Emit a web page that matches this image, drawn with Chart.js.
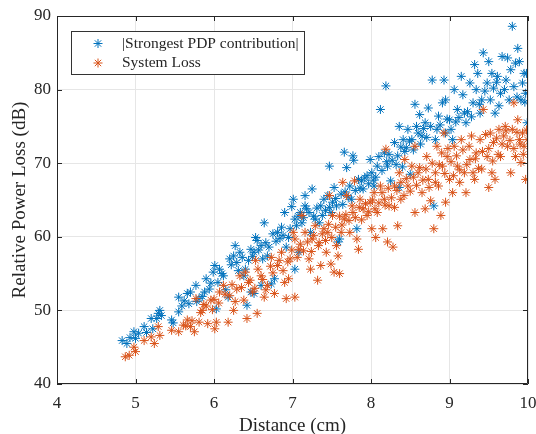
<!DOCTYPE html>
<html>
<head>
<meta charset="utf-8">
<script src="https://cdn.jsdelivr.net/npm/chart.js@4.4.1/dist/chart.umd.min.js"></script>
<style>
  body { margin: 0; background: #fff; }
</style>
</head>
<body>
<canvas id="grafico" width="536" height="434"></canvas>
<script>
// Valores: distancia (cm) e perda (dB)
const pdpPontos = [
  [4.83,45.9],[4.89,45.5],[4.93,46.3],[4.98,47.1],[5.0,46.2],[5.04,46.9],[5.11,47.8],[5.14,47.0],[5.2,48.9],[5.22,47.5],
  [5.27,48.9],[5.29,49.6],[5.31,50.0],[5.33,49.3],[5.46,48.7],[5.48,48.3],[5.55,49.8],[5.55,51.8],[5.59,50.6],[5.62,51.3],
  [5.66,52.3],[5.7,52.5],[5.68,50.9],[5.77,53.4],[5.78,51.2],[5.81,51.6],[5.85,51.9],[5.88,52.5],[5.9,54.3],[5.94,52.9],
  [5.96,53.7],[5.99,55.2],[6.01,56.1],[6.03,50.2],[6.05,53.8],[6.07,55.6],[6.1,55.0],[6.12,54.7],[6.15,52.8],[6.18,51.8],
  [6.2,57.0],[6.22,56.2],[6.25,57.4],[6.27,58.8],[6.29,56.5],[6.31,55.4],[6.33,57.9],[6.36,57.2],[6.38,54.7],[6.4,55.6],
  [6.42,50.7],[6.44,56.8],[6.47,58.3],[6.47,52.5],[6.49,57.3],[6.51,57.9],[6.51,52.3],[6.53,59.9],[6.55,59.5],[6.57,58.2],
  [6.6,58.8],[6.6,53.4],[6.62,57.0],[6.64,61.9],[6.66,59.2],[6.68,57.4],[6.7,58.6],[6.73,53.6],[6.75,60.4],[6.77,54.3],
  [6.79,59.4],[6.81,60.6],[6.84,59.8],[6.86,61.3],[6.88,60.2],[6.9,63.3],[6.92,58.6],[6.95,59.9],[6.97,61.1],[6.99,64.1],
  [7.01,65.1],[7.03,62.4],[7.03,55.6],[7.05,61.5],[7.07,62.8],[7.08,57.9],[7.1,63.3],[7.12,61.9],[7.14,62.6],[7.16,64.2],
  [7.16,65.6],[7.18,63.8],[7.21,63.3],[7.23,60.6],[7.25,66.5],[7.27,62.8],[7.29,62.4],[7.31,63.9],[7.34,61.9],[7.36,64.2],
  [7.38,62.9],[7.4,65.1],[7.42,63.6],[7.45,65.6],[7.47,69.6],[7.47,64.0],[7.49,63.3],[7.51,64.7],[7.53,66.7],[7.55,65.2],
  [7.56,64.2],[7.58,59.3],[7.6,59.7],[7.62,65.8],[7.64,64.4],[7.66,71.5],[7.67,66.1],[7.69,69.4],[7.71,65.4],[7.73,66.9],
  [7.75,65.1],[7.77,71.0],[7.78,70.4],[7.8,66.3],[7.82,61.1],[7.84,67.8],[7.86,66.6],[7.88,67.6],[7.9,66.5],[7.92,68.0],
  [7.95,68.3],[7.97,67.2],[7.99,70.5],[8.01,68.7],[8.03,67.7],[8.04,66.9],[8.06,68.1],[8.08,69.6],[8.1,70.9],[8.12,77.3],
  [8.14,69.0],[8.17,71.4],[8.19,80.5],[8.2,70.2],[8.21,69.6],[8.23,71.2],[8.25,67.6],[8.27,70.4],[8.3,72.8],[8.32,69.8],
  [8.34,71.0],[8.36,75.0],[8.36,66.7],[8.38,72.2],[8.4,69.5],[8.41,73.2],[8.43,71.6],[8.45,72.1],[8.47,74.6],[8.49,73.0],
  [8.5,68.5],[8.52,73.2],[8.54,71.8],[8.56,78.0],[8.58,75.0],[8.6,74.1],[8.62,76.6],[8.63,72.6],[8.65,73.7],[8.67,74.7],
  [8.69,75.5],[8.71,73.5],[8.73,77.5],[8.76,75.0],[8.78,81.3],[8.8,64.2],[8.82,73.2],[8.84,74.6],[8.86,76.4],[8.88,75.2],
  [8.91,78.2],[8.93,81.3],[8.95,78.6],[8.95,74.1],[8.97,76.0],[9.0,75.9],[9.02,74.6],[9.04,73.2],[9.06,80.0],[9.08,75.6],
  [9.1,77.3],[9.12,76.2],[9.15,81.8],[9.17,79.3],[9.19,76.8],[9.21,75.5],[9.23,77.0],[9.26,80.9],[9.28,76.3],[9.3,78.2],
  [9.32,83.4],[9.34,80.0],[9.36,82.2],[9.38,78.0],[9.39,76.8],[9.41,78.6],[9.43,85.0],[9.45,79.8],[9.48,80.9],[9.5,83.8],
  [9.52,78.6],[9.54,82.2],[9.56,80.2],[9.58,76.8],[9.6,81.0],[9.61,81.8],[9.63,77.8],[9.65,79.5],[9.67,84.5],[9.7,80.0],
  [9.72,81.3],[9.74,84.3],[9.76,78.6],[9.78,82.7],[9.8,88.6],[9.82,80.4],[9.84,83.6],[9.86,79.0],[9.87,85.6],[9.89,83.8],
  [9.91,78.6],[9.93,80.9],[9.95,82.2],[9.97,79.5],[9.99,75.5],[9.98,82.2],[9.96,78.3]
];

const perdaPontos = [
  [4.87,43.7],[4.92,43.9],[4.98,45.0],[5.0,44.4],[5.11,45.9],[5.2,46.4],[5.24,45.5],[5.29,47.8],[5.31,46.6],[5.46,47.3],
  [5.55,47.1],[5.61,48.0],[5.64,47.9],[5.66,48.7],[5.7,47.8],[5.72,48.6],[5.75,47.1],[5.77,51.6],[5.81,48.4],[5.83,49.7],
  [5.85,50.0],[5.87,50.8],[5.9,50.6],[5.92,48.2],[5.96,51.4],[5.98,50.1],[6.0,51.5],[6.01,47.5],[6.03,48.4],[6.06,51.0],
  [6.07,52.5],[6.12,53.4],[6.14,52.2],[6.18,48.4],[6.2,52.0],[6.23,53.5],[6.25,50.0],[6.27,51.2],[6.29,52.9],[6.33,54.7],
  [6.35,53.1],[6.38,51.4],[6.4,55.2],[6.42,48.9],[6.44,53.8],[6.46,54.1],[6.49,52.5],[6.52,53.0],[6.53,56.8],[6.55,49.6],
  [6.56,55.6],[6.6,54.7],[6.62,54.2],[6.64,51.8],[6.66,52.8],[6.68,53.4],[6.72,56.0],[6.73,57.2],[6.75,55.1],[6.77,52.3],
  [6.81,56.1],[6.83,56.8],[6.86,57.9],[6.88,55.4],[6.9,53.8],[6.92,51.6],[6.94,56.6],[6.95,54.3],[6.97,57.0],[6.99,58.2],
  [7.01,60.6],[7.03,51.8],[7.03,59.7],[7.06,57.2],[7.08,58.3],[7.1,59.0],[7.12,62.9],[7.14,58.1],[7.16,60.6],[7.19,59.3],
  [7.21,57.0],[7.23,55.6],[7.24,58.0],[7.25,59.7],[7.27,60.2],[7.29,61.5],[7.32,54.1],[7.33,58.8],[7.34,59.2],[7.36,56.1],
  [7.38,60.4],[7.4,61.1],[7.42,59.5],[7.43,57.9],[7.45,60.6],[7.46,61.7],[7.47,65.6],[7.49,56.3],[7.5,59.9],[7.51,62.9],
  [7.53,55.2],[7.55,61.3],[7.56,58.8],[7.58,57.4],[7.6,55.0],[7.6,62.8],[7.62,60.6],[7.63,61.6],[7.64,67.4],[7.66,62.4],
  [7.68,63.0],[7.69,65.6],[7.72,62.2],[7.73,60.6],[7.76,64.2],[7.77,63.3],[7.79,67.6],[7.8,62.6],[7.82,59.7],[7.84,58.3],
  [7.85,64.0],[7.86,65.1],[7.88,62.3],[7.9,63.8],[7.93,64.5],[7.95,62.9],[7.97,63.4],[7.99,64.7],[8.01,61.1],[8.02,65.0],
  [8.04,66.0],[8.05,63.8],[8.06,59.9],[8.08,63.3],[8.1,64.6],[8.12,66.9],[8.14,66.0],[8.15,61.1],[8.17,65.1],[8.18,64.3],
  [8.19,71.9],[8.21,59.3],[8.22,66.6],[8.23,64.2],[8.26,65.3],[8.28,58.6],[8.3,66.9],[8.3,64.0],[8.33,66.3],[8.34,61.5],
  [8.36,68.7],[8.38,65.1],[8.38,67.4],[8.42,65.6],[8.43,70.5],[8.45,67.9],[8.47,66.9],[8.5,66.2],[8.52,69.6],[8.54,68.1],
  [8.56,72.3],[8.56,63.3],[8.58,67.0],[8.6,68.7],[8.62,69.4],[8.65,66.0],[8.66,67.7],[8.69,63.8],[8.7,69.2],[8.71,70.9],
  [8.73,67.8],[8.74,66.7],[8.76,64.9],[8.78,70.0],[8.8,61.1],[8.82,68.7],[8.82,67.4],[8.84,72.3],[8.86,66.9],[8.87,69.8],
  [8.89,62.9],[8.9,71.4],[8.91,69.6],[8.93,74.1],[8.94,68.6],[8.95,64.7],[8.97,70.9],[8.98,72.0],[9.0,67.8],[9.02,70.2],
  [9.04,66.0],[9.05,68.3],[9.06,72.3],[9.09,71.0],[9.1,69.6],[9.13,67.4],[9.13,69.1],[9.15,73.2],[9.17,71.8],[9.19,68.7],
  [9.21,66.0],[9.22,69.8],[9.25,72.3],[9.26,70.5],[9.28,73.7],[9.3,68.7],[9.32,67.8],[9.33,70.6],[9.34,71.4],[9.37,69.3],
  [9.39,73.2],[9.41,69.2],[9.42,71.6],[9.43,77.3],[9.46,73.9],[9.48,70.9],[9.5,66.7],[9.5,72.0],[9.52,74.1],[9.54,68.7],
  [9.55,70.3],[9.56,72.8],[9.58,67.8],[9.6,73.4],[9.62,71.2],[9.63,74.6],[9.65,70.9],[9.67,72.6],[9.69,73.7],[9.71,75.0],
  [9.72,74.4],[9.74,72.3],[9.77,73.1],[9.78,68.7],[9.8,74.6],[9.82,78.2],[9.82,72.0],[9.84,70.9],[9.86,74.2],[9.87,75.9],
  [9.89,73.2],[9.9,72.6],[9.91,70.1],[9.93,74.1],[9.94,71.2],[9.95,72.3],[9.97,67.8],[9.98,74.5],[9.99,73.2]
];

const rotulosX = [4, 5, 6, 7, 8, 9, 10];
const rotulosY = [40, 50, 60, 70, 80, 90];
const nomesSeries = ['|Strongest PDP contribution|', 'System Loss'];
const tituloX = 'Distance (cm)';
const tituloY = 'Relative Power Loss (dB)';
const azul = 'rgb(0, 114, 189)';
const laranja = 'rgb(217, 83, 25)';
const fonte = '"Liberation Serif", "Times New Roman", serif';
const corTexto = '#262626';

function converterPontos(lista) {
    return lista.map(p => ({ x: p[0], y: p[1] }));
}

function desenharAsterisco(ctx, x, y, r, cor) {
    const d = r * Math.SQRT1_2;
    ctx.strokeStyle = cor;
    ctx.lineWidth = 1;
    ctx.beginPath();
    ctx.moveTo(x - r, y); ctx.lineTo(x + r, y);
    ctx.moveTo(x, y - r); ctx.lineTo(x, y + r);
    ctx.moveTo(x - d, y - d); ctx.lineTo(x + d, y + d);
    ctx.moveTo(x - d, y + d); ctx.lineTo(x + d, y - d);
    ctx.stroke();
}

// caixa do eixo, marcas internas, titulos e legenda (estilo MATLAB)
const molduraPlugin = {
    id: 'moldura',
    afterDraw(chart) {
        const ctx = chart.ctx;
        const a = chart.chartArea;
        const sx = chart.scales.x, sy = chart.scales.y;
        ctx.save();
        ctx.strokeStyle = corTexto;
        ctx.lineWidth = 1;
        ctx.beginPath();
        ctx.rect(a.left + 0.5, a.top + 0.5, a.right - a.left - 1, a.bottom - a.top - 1);
        for (const v of rotulosX) {
            const px = Math.round(sx.getPixelForValue(v)) + 0.5;
            ctx.moveTo(px, a.bottom); ctx.lineTo(px, a.bottom - 5);
            ctx.moveTo(px, a.top); ctx.lineTo(px, a.top + 5);
        }
        for (const v of rotulosY) {
            const py = Math.round(sy.getPixelForValue(v)) + 0.5;
            ctx.moveTo(a.left, py); ctx.lineTo(a.left + 5, py);
            ctx.moveTo(a.right, py); ctx.lineTo(a.right - 5, py);
        }
        ctx.stroke();

        // titulos dos eixos
        ctx.fillStyle = corTexto;
        ctx.font = '19px ' + fonte;
        ctx.textAlign = 'center';
        ctx.textBaseline = 'middle';
        ctx.fillText(tituloX, (a.left + a.right) / 2, 426);
        ctx.save();
        ctx.translate(20, (a.top + a.bottom) / 2);
        ctx.rotate(-Math.PI / 2);
        ctx.fillText(tituloY, 0, 0);
        ctx.restore();

        // legenda
        const lx = a.left + 14, ly = a.top + 15, lw = 233, lh = 43;
        ctx.fillStyle = '#fff';
        ctx.fillRect(lx, ly, lw, lh);
        ctx.strokeStyle = '#333';
        ctx.strokeRect(lx + 0.5, ly + 0.5, lw, lh);
        const cores = [azul, laranja];
        ctx.font = '15.5px ' + fonte;
        ctx.textAlign = 'left';
        for (let i = 0; i < nomesSeries.length; i++) {
            const cy = ly + 12.5 + i * 19.5;
            desenharAsterisco(ctx, lx + 27, cy, 4.5, cores[i]);
            ctx.fillStyle = corTexto;
            ctx.fillText(nomesSeries[i], lx + 51, cy);
        }
        ctx.restore();
    }
};

const dados = {
    datasets: [
        {
            label: nomesSeries[0],
            data: converterPontos(pdpPontos),
            borderColor: azul,
            backgroundColor: azul,
            pointStyle: 'star',
            pointRadius: 4.5,
            pointBorderWidth: 1,
            order: 2
        },
        {
            label: nomesSeries[1],
            data: converterPontos(perdaPontos),
            borderColor: laranja,
            backgroundColor: laranja,
            pointStyle: 'star',
            pointRadius: 4.5,
            pointBorderWidth: 1,
            order: 1
        }
    ]
};

const config = {
    type: 'scatter',
    data: dados,
    options: {
        responsive: false,
        animation: false,
        layout: { padding: { top: 16, right: 8 } },
        plugins: {
            legend: { display: false },
            tooltip: { enabled: false }
        },
        scales: {
            x: {
                type: 'linear',
                min: 4, max: 10,
                afterFit: (s) => { s.height = 50; s.paddingLeft = 0; s.paddingRight = 0; },
                afterBuildTicks: (s) => { s.ticks = rotulosX.map(v => ({ value: v })); },
                grid: { color: '#e6e6e6', drawTicks: false },
                border: { display: false },
                ticks: { padding: 9, color: corTexto, font: { family: fonte, size: 17 } }
            },
            y: {
                type: 'linear',
                min: 40, max: 90,
                afterFit: (s) => { s.width = 57; s.paddingTop = 0; s.paddingBottom = 0; },
                afterBuildTicks: (s) => { s.ticks = rotulosY.map(v => ({ value: v })); },
                grid: { color: '#e6e6e6', drawTicks: false },
                border: { display: false },
                ticks: { padding: 6, color: corTexto, font: { family: fonte, size: 17 } }
            }
        }
    },
    plugins: [molduraPlugin]
};

var ctx = document.getElementById('grafico').getContext('2d');
let meuGrafico = new Chart(ctx, config);
</script>
</body>
</html>
